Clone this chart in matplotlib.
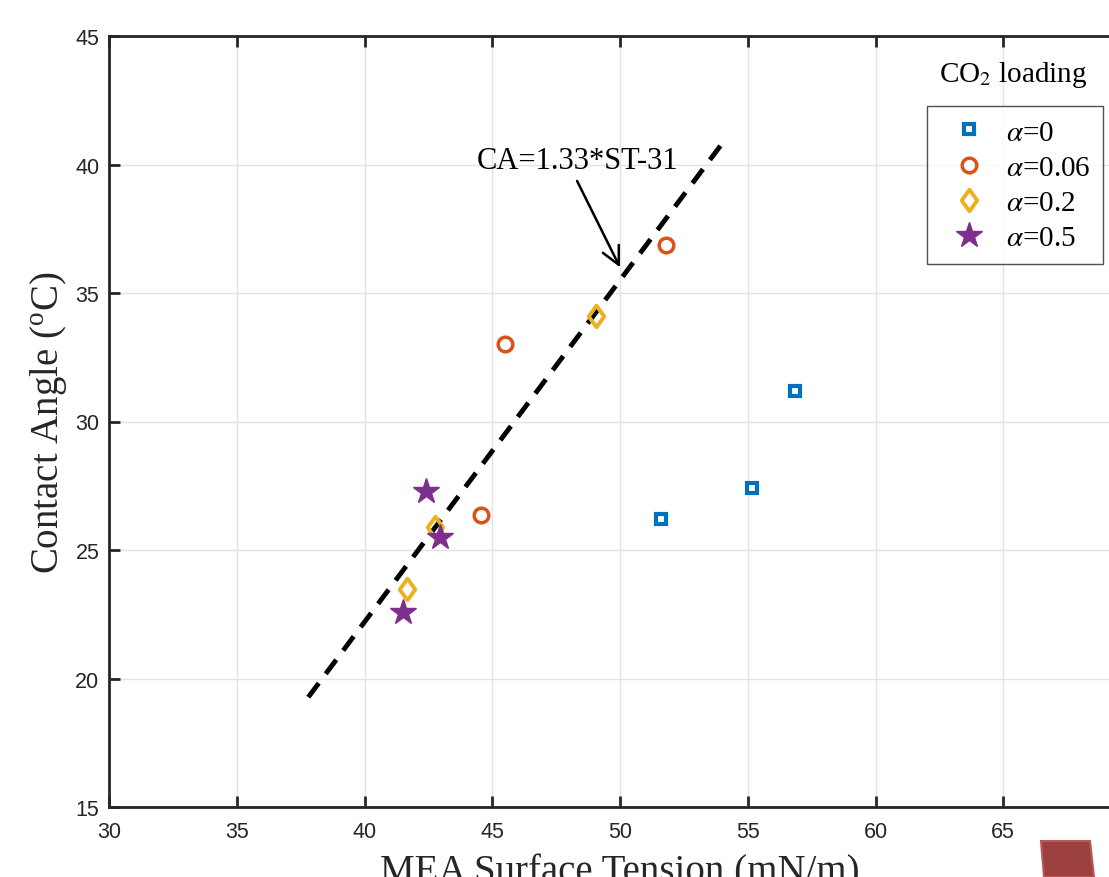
import numpy as np
import matplotlib
matplotlib.use("Agg")
import matplotlib.pyplot as plt
from matplotlib.patches import Polygon
from matplotlib.path import Path

plt.rcParams["mathtext.fontset"] = "stix"

# surface tension (mN/m) vs contact angle for each CO2 loading
st_a0 = [51.6, 55.15, 56.85]
ca_a0 = [26.2, 27.4, 31.2]
st_a006 = [45.5, 44.55, 51.8]
ca_a006 = [33.0, 26.35, 36.85]
st_a02 = [49.05, 42.75, 41.65]
ca_a02 = [34.1, 25.9, 23.5]
st_a05 = [42.4, 42.95, 41.5]
ca_a05 = [27.3, 25.5, 22.6]

labels = [r"$\alpha$=0", r"$\alpha$=0.06", r"$\alpha$=0.2", r"$\alpha$=0.5"]

# fitted line CA = 1.33*ST - 31
fit_slope = 1.33
fit_icpt = -31
fit_range = [37.8, 54.0]

xticks = [30, 35, 40, 45, 50, 55, 60, 65, 70]
yticks = [15, 20, 25, 30, 35, 40, 45]

# wide diamond like matlab's
diamond = Path([(0, 1), (0.72, 0), (0, -1), (-0.72, 0), (0, 1)], closed=True)

fig = plt.figure(figsize=(11.09, 8.78), dpi=100)
ax = fig.add_axes([109 / 1109, 70 / 878, 1022 / 1109, 771 / 878])

ax.set_xlim(30, 70)
ax.set_ylim(15, 45)
ax.set_xticks(xticks)
ax.set_yticks(yticks)
ax.grid(True, color="#e3e3e3", linewidth=1)
ax.set_axisbelow(True)
ax.tick_params(direction="in", length=8, width=2, top=True, right=False,
               labelsize=15.5, labelcolor="#262626", colors="#262626", pad=7)
ax.tick_params(axis="x", pad=10)
for lab in ax.get_xticklabels() + ax.get_yticklabels():
    lab.set_fontfamily("Liberation Sans")
for s in ax.spines.values():
    s.set_linewidth(2)
    s.set_color("#262626")
ax.spines["right"].set_visible(False)

fx = np.array(fit_range)
ax.plot(fx, fit_slope * fx + fit_icpt, "k--", linewidth=3.5, dashes=(3.6, 2.4))

h1, = ax.plot(st_a0, ca_a0, "s", ms=7.8, mfc="none", mec="#0072BD", mew=3.0, ls="none")
h2, = ax.plot(st_a006, ca_a006, "o", ms=10.5, mfc="none", mec="#D95319", mew=2.5, ls="none")
h3, = ax.plot(st_a02, ca_a02, marker=diamond, ms=15.5, mfc="none", mec="#EDB120", mew=2.8, ls="none")
h4, = ax.plot(st_a05, ca_a05, "*", ms=19, mfc="#7E2F8E", mec="#7E2F8E", mew=1, ls="none")

ax.text(48.32, 40.14, "CA=1.33*ST-31", ha="center", va="center", fontsize=22,
        family="Liberation Serif")
ax.annotate("", xy=(50.0, 36.0), xytext=(48.32, 39.36),
            arrowprops=dict(arrowstyle="->", color="k", lw=1.8,
                            mutation_scale=32, shrinkA=0, shrinkB=0))

ax.set_xlabel("MEA Surface Tension (mN/m)", fontsize=28, family="Liberation Serif",
              color="#262626", labelpad=8)
ax.set_ylabel(r"Contact Angle ($\mathregular{^o}$C)", fontsize=28,
              family="Liberation Serif", color="#262626")
ax.yaxis.set_label_coords(-0.039, 0.5)

leg = ax.legend([h1, h2, h3, h4], labels, loc="upper left",
                bbox_to_anchor=(927 / 1109, 1 - 107 / 878), bbox_transform=fig.transFigure,
                borderaxespad=0, prop={"family": "Liberation Serif", "size": 21},
                frameon=True, fancybox=False, edgecolor="#262626", handletextpad=0.25,
                borderpad=0.45, labelspacing=0.3, handlelength=2.0)
leg.get_frame().set_linewidth(1)
fig.text(1013 / 1109, 1 - 75 / 878, r"CO$_2$ loading", ha="center", va="center",
         fontsize=21, family="Liberation Serif")

# red tab at bottom right corner
fig.patches.append(Polygon([[1041 / 1109, 36 / 878], [1090 / 1109, 36 / 878],
                            [1094 / 1109, 0], [1044 / 1109, 0]], closed=True,
                           transform=fig.transFigure, facecolor="#9b3f3f",
                           edgecolor="#b85858", linewidth=1.5))

fig.savefig("out.png", dpi=100)
